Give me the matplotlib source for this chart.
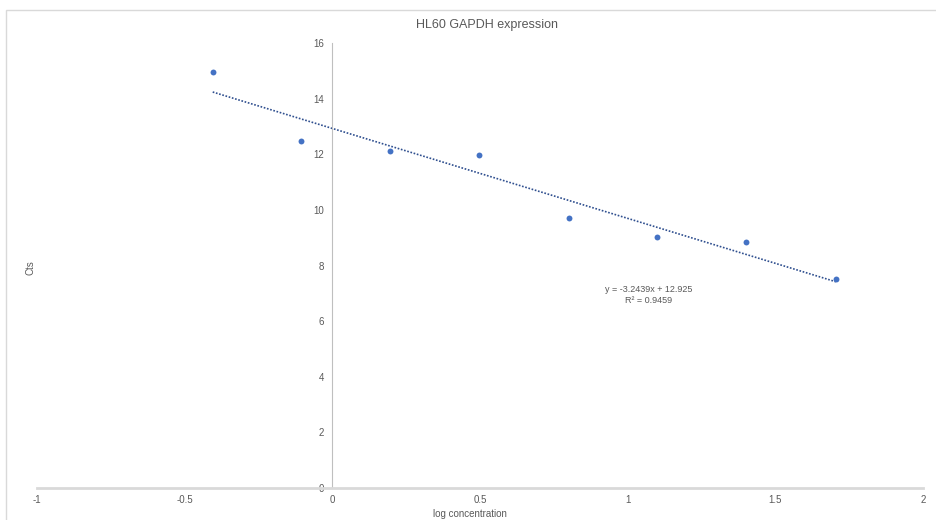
import numpy as np
import matplotlib
matplotlib.use('Agg')
from matplotlib import pyplot as plt

# data
log_conc = [-0.405, -0.105, 0.195, 0.495, 0.8, 1.1, 1.4, 1.705]
cts = [14.97, 12.48, 12.12, 11.98, 9.71, 9.03, 8.85, 7.52]
x_ticks = [-1, -0.5, 0, 0.5, 1, 1.5, 2]
x_tick_labels = ['-1', '-0.5', '0', '0.5', '1', '1.5', '2']
y_ticks = [0, 2, 4, 6, 8, 10, 12, 14, 16]
eq_text = 'y = -3.2439x + 12.925\nR² = 0.9459'

plt.rcParams['font.family'] = ['Liberation Sans', 'DejaVu Sans']
grey = '#595959'

fig = plt.figure(figsize=(9.36, 5.2), dpi=100)
# outer chart frame
fig.patches.append(plt.Rectangle((6 / 936, -0.01), 1.0, 1 - 10 / 520 + 0.01,
                                 transform=fig.transFigure, fill=False,
                                 edgecolor='#d9d9d9', linewidth=1))

ax = fig.add_axes([37 / 936, 1 - 488 / 520, (923 - 37) / 936, (488 - 43) / 520])
ax.set_xlim(-1, 2)
ax.set_ylim(0, 16)

for s in ['top', 'right']:
    ax.spines[s].set_visible(False)
ax.spines['left'].set_position(('data', 0))
ax.spines['left'].set_color('#bfbfbf')
ax.spines['left'].set_linewidth(0.8)
ax.spines['bottom'].set_color('#d9d9d9')
ax.spines['bottom'].set_linewidth(2)

ax.set_xticks(x_ticks)
ax.set_xticklabels(x_tick_labels)
ax.set_yticks(y_ticks)
ax.tick_params(length=0, labelsize=7, colors=grey)
ax.tick_params(axis='x', pad=5)
ax.tick_params(axis='y', pad=6)

# trendline (least squares fit)
m, b = np.polyfit(log_conc, cts, 1)
xs = np.array([min(log_conc), max(log_conc)])
ax.plot(xs, m * xs + b, linestyle=(0, (1, 1)), color='#2f4f8f', linewidth=1.2, zorder=2)

ax.scatter(log_conc, cts, s=18, color='#4472c4', zorder=3, linewidths=0)

ax.text(1.07, 6.95, eq_text, ha='center', va='center', fontsize=6.5, color=grey,
        linespacing=1.3)

fig.text(487 / 936, 1 - 25 / 520, 'HL60 GAPDH expression', ha='center', va='center',
         fontsize=9, color=grey)
fig.text(470 / 936, 1 - 514 / 520, 'log concentration', ha='center', va='center',
         fontsize=7, color=grey)
fig.text(31 / 936, 1 - 268 / 520, 'Cts', ha='center', va='center', rotation=90,
         fontsize=7, color=grey)

fig.savefig('out.png', dpi=100)
